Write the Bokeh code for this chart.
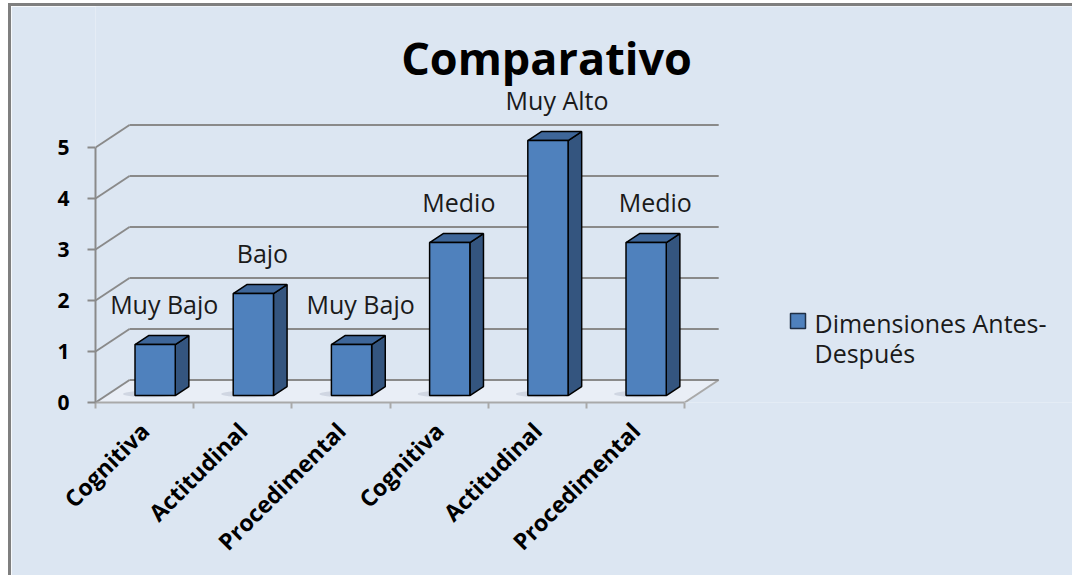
from math import pi
from bokeh.plotting import figure
from bokeh.models import Range1d, FixedTicker, LinearAxis
from bokeh.core.properties import value
from bokeh.embed import file_html
from bokeh.resources import INLINE

# ---------------- data ----------------
title_text = "Comparativo"
categories = ["Cognitiva", "Actitudinal", "Procedimental",
              "Cognitiva", "Actitudinal", "Procedimental"]
values = [1, 2, 1, 3, 5, 3]
level_labels = ["Muy Bajo", "Bajo", "Muy Bajo", "Medio", "Muy Alto", "Medio"]
y_ticks = [0, 1, 2, 3, 4, 5]
legend_lines = ["Dimensiones Antes-", "Después"]

# ---------------- layout / style ----------------
W, H = 1064, 572
ML, MB = 84, 176
SX, SY = 98.2, 51.0            # pixels per data unit
X0_PAGE, Y0_PAGE = 95, 402     # page position of data (0, 0)
DX, DY = 34 / SX, 22.5 / SY    # full depth offset (oblique projection)
F0, F1 = 0.31, 0.71            # bar depth span (fraction of full depth)
BW = 0.41                      # bar width (category units)

BG = "#dce6f2"
FLOOR = "#e9eef6"
GRID = "#8a8a8a"
FRONT = "#4f81bd"
SIDE = "#34557f"
TOP = "#3e6699"
FONT = "Open Sans"


def xp(px):
    return (px - X0_PAGE) / SX


def yp(py):
    return (Y0_PAGE - py) / SY


p = figure(width=W, height=H,
           x_range=Range1d(0, (W - ML) / SX),
           y_range=Range1d(0, (H - MB) / SY),
           output_backend="svg", toolbar_location=None,
           x_axis_type=None, y_axis_type=None,
           min_border_left=ML, min_border_bottom=MB,
           min_border_top=0, min_border_right=0,
           background_fill_color=BG, border_fill_color=BG,
           outline_line_color=None)
p.styles = {"border-left": "3px solid #7f7f7f", "border-top": "3px solid #7f7f7f"}
p.margin = (3, 0, 0, 8)

n = len(categories)
vmax = y_ticks[-1]

# floor
p.patch([0, n, n + DX, DX], [0, 0, DY, DY], fill_color=FLOOR, line_color=None)
p.line([n, n + DX], [0, DY], line_color="#a9a9a9", line_width=2)

# back wall gridlines + left wall diagonals
for t in y_ticks:
    p.line([DX, n + DX], [t + DY, t + DY], line_color=GRID, line_width=2)
    p.line([0, DX], [t, t + DY], line_color=GRID, line_width=2)

# bar shadows
for i, v in enumerate(values):
    cx = i + 0.5 + F0 * DX
    p.ellipse(x=cx - 0.06, y=F0 * DY + 0.03, width=BW * 1.3, height=0.13,
              fill_color="#8e9bb0", fill_alpha=0.28, line_color=None)

# bars (front / side / top)
d = F1 - F0
for i, v in enumerate(values):
    left = i + 0.5 - BW / 2 + F0 * DX
    right = left + BW
    bottom = F0 * DY
    top = v + F0 * DY
    p.patch([right, right + d * DX, right + d * DX, right],
            [bottom, bottom + d * DY, top + d * DY, top],
            fill_color=SIDE, line_color="black", line_width=1.5)
    p.patch([left, right, right + d * DX, left + d * DX],
            [top, top, top + d * DY, top + d * DY],
            fill_color=TOP, line_color="black", line_width=1.5)
    p.quad(left=left, right=right, bottom=bottom, top=top,
           fill_color=FRONT, line_color="black", line_width=1.5)

# data labels
lx = [i + 0.5 + 0.2 for i in range(n)]
ly = [v + 0.94 for v in values]
p.text(x=lx, y=ly, text=level_labels, text_align="center", text_baseline="middle",
       text_font=value(FONT), text_font_size="25px", text_color="#1a1a1a")

# title
p.text(x=[xp(546)], y=[yp(57)], text=[title_text], text_align="center",
       text_baseline="middle", text_font=value(FONT), text_font_size="45px",
       text_font_style="bold", text_color="black")

# legend
p.quad(left=xp(790), right=xp(805), bottom=yp(328), top=yp(313),
       fill_color=FRONT, line_color="#1f2f45", line_width=1.5)
p.text(x=[xp(814), xp(814)], y=[yp(322), yp(352)], text=legend_lines,
       text_align="left", text_baseline="middle", text_font=value(FONT),
       text_font_size="25px", text_color="#1a1a1a")

# axes
yaxis = LinearAxis(ticker=FixedTicker(ticks=y_ticks), bounds=(0, vmax))
yaxis.axis_line_color = GRID
yaxis.axis_line_width = 2
yaxis.major_tick_line_color = GRID
yaxis.major_tick_line_width = 2
yaxis.major_tick_out = 8
yaxis.major_tick_in = 0
yaxis.minor_tick_line_color = None
yaxis.major_label_standoff = 18
yaxis.major_label_text_font = FONT
yaxis.major_label_text_font_size = "21px"
yaxis.major_label_text_font_style = "bold"
yaxis.major_label_text_color = "black"
p.add_layout(yaxis, "left")

centers = [i + 0.5 for i in range(n)]
xaxis = LinearAxis(ticker=FixedTicker(ticks=centers, minor_ticks=list(range(n + 1))),
                   bounds=(0, n))
xaxis.major_label_overrides = {c: lab for c, lab in zip(centers, categories)}
xaxis.axis_line_color = "#a9a9a9"
xaxis.axis_line_width = 2
xaxis.major_tick_line_color = None
xaxis.major_tick_out = 0
xaxis.major_tick_in = 0
xaxis.minor_tick_line_color = "#a9a9a9"
xaxis.minor_tick_line_width = 2
xaxis.minor_tick_out = 6
xaxis.minor_tick_in = 0
xaxis.major_label_orientation = pi / 4
xaxis.major_label_standoff = 18
xaxis.major_label_text_font = FONT
xaxis.major_label_text_font_size = "23px"
xaxis.major_label_text_font_style = "bold"
xaxis.major_label_text_color = "black"
p.add_layout(xaxis, "below")

open("out.html", "w").write(file_html(p, INLINE))
